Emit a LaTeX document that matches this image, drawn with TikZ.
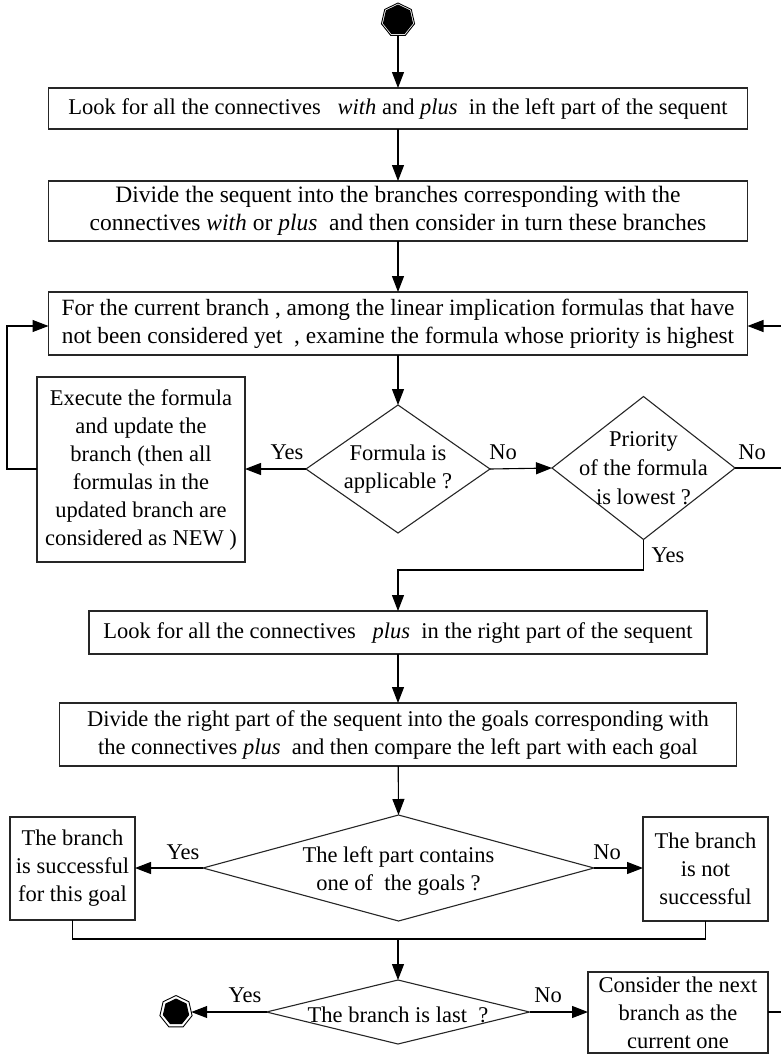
\documentclass[tikz,border=0pt]{standalone}
\usepackage{fontspec}
\setmainfont{Liberation Serif}
\usetikzlibrary{shapes.geometric,arrows.meta,calc}

\begin{document}
\begin{tikzpicture}[x=1pt,y=-1pt,
  font=\fontsize{22.5}{28}\selectfont,
  box/.style={draw=black!85,line width=1.1pt,rectangle,inner sep=0pt,outer sep=0pt,align=center},
  bigbox/.style={box,font=\fontsize{23.3}{28}\selectfont},
  dec/.style={draw=black!85,line width=1.1pt,diamond,inner sep=0pt,outer sep=0pt},
  flow/.style={line width=1.1pt,-{Triangle[length=16pt,width=12pt]}},
  link/.style={line width=1.1pt},
  termring/.style={regular polygon,regular polygon sides=7,draw,line width=0.9pt,minimum size=34pt,inner sep=0pt,outer sep=0pt},
  termcore/.style={regular polygon,regular polygon sides=7,fill=black,minimum size=28pt,inner sep=0pt},
  lbl/.style={inner sep=0pt}
]
\path[use as bounding box] (0,0) rectangle (781,1055);
\clip (0,0) rectangle (781,1055);

% start terminal
\node[termring] (start) at (398,20) {};
\node[termcore,minimum size=31pt] (startcore) at (398,20) {};

% main column
\node[box,minimum width=699pt,minimum height=41pt] (b1) at (398,108.5)
  {Look for all the connectives \ \ \textit{with} and \textit{plus}\ \ in the left part of the sequent};
\node[bigbox,font=\fontsize{23.5}{28}\selectfont,minimum width=699pt,minimum height=60pt] (b2) at (398,211)
  {Divide the sequent into the branches corresponding with the\\connectives \textit{with} or \textit{plus}\ \ and then consider in turn these branches};
\node[bigbox,minimum width=699pt,minimum height=63pt] (b3) at (398,323.5)
  {For the current branch , among the linear implication formulas that have\\not been considered yet\ \ , examine the formula whose priority is highest};

\node[dec,minimum width=184pt,minimum height=128pt,
  label={[align=center]center:Formula is\\applicable ?}] (d1) at (398,469) {};
\node[box,minimum width=208pt,minimum height=185pt] (ex) at (141,469.5)
  {Execute the formula\\and update the\\branch (then all\\formulas in the\\updated branch are\\considered as NEW )};
\node[dec,minimum width=183pt,minimum height=143pt,
  label={[align=center,font=\fontsize{22.5}{29}\selectfont]center:Priority\\of the formula\\is lowest ?}] (d2) at (643.5,468) {};

\node[box,minimum width=618pt,minimum height=43pt] (b4) at (398,632.5)
  {Look for all the connectives \ \ \textit{plus}\ \ in the right part of the sequent};
\node[box,minimum width=677pt,minimum height=63pt] (b5) at (398,734.5)
  {Divide the right part of the sequent into the goals corresponding with\\the connectives \textit{plus}\ \ and then compare the left part with each goal};

\node[dec,minimum width=391pt,minimum height=106pt,
  label={[align=center,yshift=-3pt]center:The left part contains\\one of\ \ the goals ?}] (d3) at (398.5,868) {};
\node[box,minimum width=125pt,minimum height=103pt] (sl) at (72.5,868.5)
  {The branch\\is successful\\for this goal};
\node[box,minimum width=125pt,minimum height=104pt] (nl) at (705.5,869)
  {The branch\\is not\\successful};

\node[dec,minimum width=263pt,minimum height=64pt,
  label={[yshift=-3pt]center:The branch is last\ \ ?}] (d4) at (398,1012) {};
\node[termring,minimum size=33pt] (stop) at (176,1012) {};
\node[termcore,minimum size=27pt] (stopcore) at (176,1012) {};
\node[box,minimum width=180pt,minimum height=81pt] (cn) at (678,1012.5)
  {Consider the next\\branch as the\\current one};

% branch labels
\node[lbl] (yes1) at (287,452) {Yes};
\node[lbl] (no1) at (503,452) {No};
\node[lbl] (no2) at (752,452) {No};
\node[lbl] (yes2) at (668,555) {Yes};
\node[lbl] (yes3) at (183,852) {Yes};
\node[lbl] (no3) at (607,852) {No};
\node[lbl] (yes4) at (245,995) {Yes};
\node[lbl] (no4) at (548,995) {No};

% turning points
\coordinate (lx) at (7,326);
\coordinate (rx) at (790,326);
\coordinate (yturn) at (398,570);
\coordinate (mrg) at (398,939);

% connectors
\draw[flow] (start) -- (b1.north);
\draw[flow] (b1) -- (b2);
\draw[flow] (b2) -- (b3);
\draw[flow] (b3) -- (d1.north);
\draw[flow] (d1.west) -- (ex.east |- d1.west);
\draw[flow] (ex.west |- d1.west) -| (lx) -- (lx -| b3.west);
\draw[flow] (d1.east) -- (d2.west);
\draw[flow] (d2.east) -| (rx) -- (rx -| b3.east);
\draw[flow] (d2.south) |- (yturn) -- (b4.north);
\draw[flow] (b4) -- (b5);
\draw[flow] (b5) -- (d3.north);
\draw[flow] (d3.west) -- (sl.east |- d3.west);
\draw[flow] (d3.east) -- (nl.west |- d3.east);
\draw[link] (sl.south) |- (mrg) -| (nl.south);
\draw[flow] (mrg) -- (d4.north);
\draw[flow] (d4.west) -- (stop.east);
\draw[flow] (d4.east) -- (cn.west |- d4.east);
\draw[link] (cn.east |- d4.east) -| (rx);
\end{tikzpicture}
\end{document}
